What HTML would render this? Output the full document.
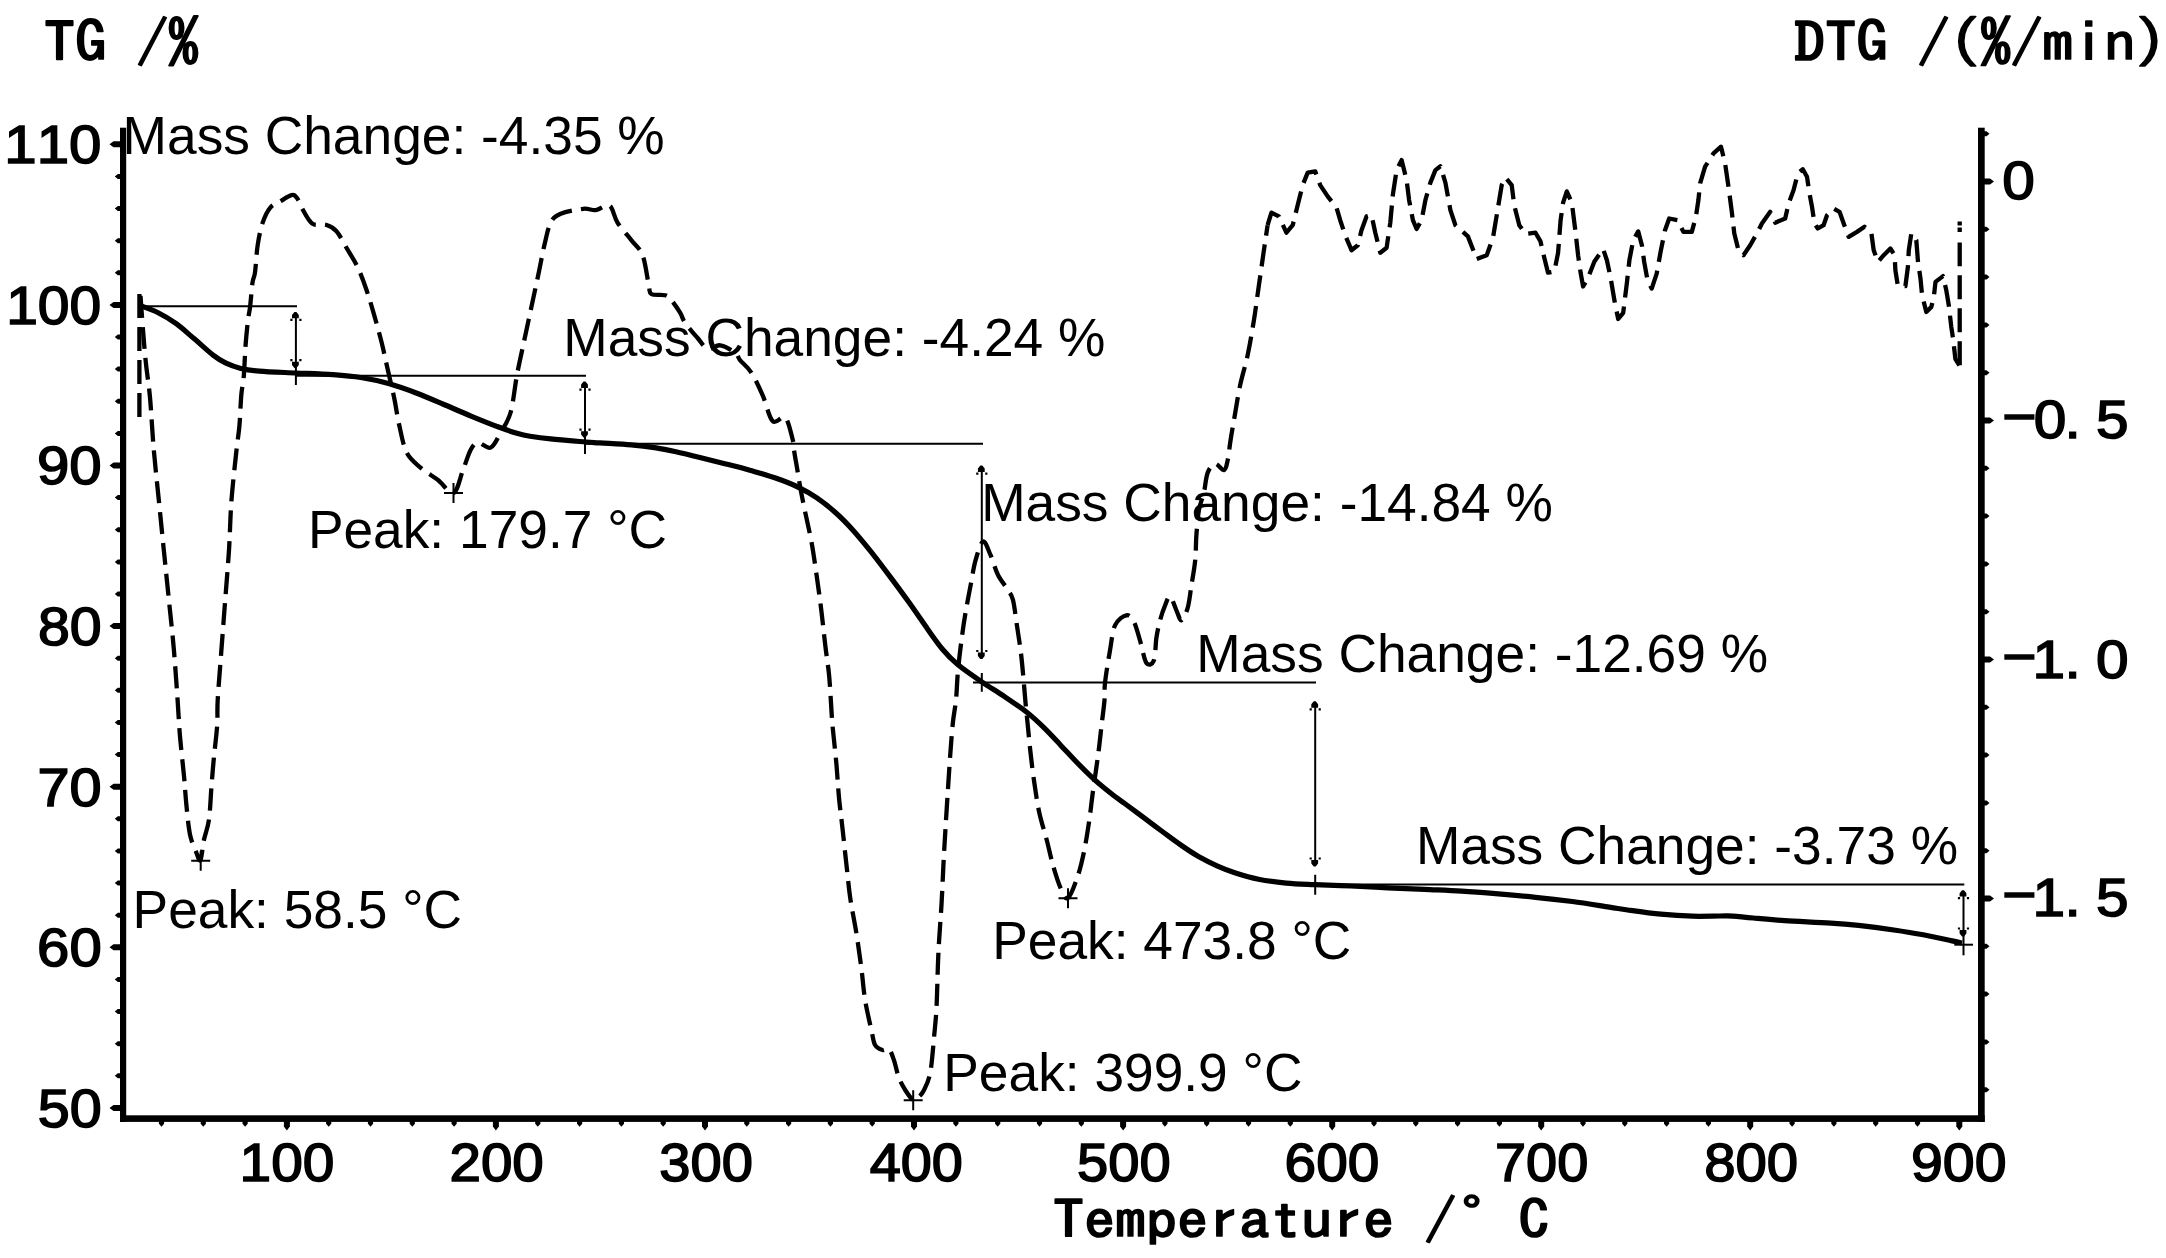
<!DOCTYPE html>
<html lang="en"><head><meta charset="utf-8"><title>TG / DTG curve</title>
<style>html,body{margin:0;padding:0;background:#fff}svg{display:block}.a{font-family:"Liberation Sans",Arial,sans-serif;fill:#000}.g{font-family:"IPAGothic","Liberation Mono",monospace;fill:#000}</style></head><body>
<svg width="2166" height="1258" viewBox="0 0 2166 1258">
<rect width="2166" height="1258" fill="#fff"/>
<g fill="#000">
<rect x="120.0" y="127.7" width="6.2" height="994.2"/>
<rect x="1978.0" y="127.7" width="6.7" height="994.2"/>
<rect x="120.0" y="1115.3" width="1864.7" height="6.6"/>
<path d="M109.5,144.3l4,-3H121.0v6H113.5z"/>
<path d="M114.8,176.4l3,-2.5H121.0v5H117.8z"/>
<path d="M114.8,208.5l3,-2.5H121.0v5H117.8z"/>
<path d="M114.8,240.7l3,-2.5H121.0v5H117.8z"/>
<path d="M114.8,272.8l3,-2.5H121.0v5H117.8z"/>
<path d="M109.5,304.9l4,-3H121.0v6H113.5z"/>
<path d="M114.8,337.0l3,-2.5H121.0v5H117.8z"/>
<path d="M114.8,369.1l3,-2.5H121.0v5H117.8z"/>
<path d="M114.8,401.3l3,-2.5H121.0v5H117.8z"/>
<path d="M114.8,433.4l3,-2.5H121.0v5H117.8z"/>
<path d="M109.5,465.5l4,-3H121.0v6H113.5z"/>
<path d="M114.8,497.6l3,-2.5H121.0v5H117.8z"/>
<path d="M114.8,529.7l3,-2.5H121.0v5H117.8z"/>
<path d="M114.8,561.9l3,-2.5H121.0v5H117.8z"/>
<path d="M114.8,594.0l3,-2.5H121.0v5H117.8z"/>
<path d="M109.5,626.1l4,-3H121.0v6H113.5z"/>
<path d="M114.8,658.2l3,-2.5H121.0v5H117.8z"/>
<path d="M114.8,690.3l3,-2.5H121.0v5H117.8z"/>
<path d="M114.8,722.5l3,-2.5H121.0v5H117.8z"/>
<path d="M114.8,754.6l3,-2.5H121.0v5H117.8z"/>
<path d="M109.5,786.7l4,-3H121.0v6H113.5z"/>
<path d="M114.8,818.8l3,-2.5H121.0v5H117.8z"/>
<path d="M114.8,850.9l3,-2.5H121.0v5H117.8z"/>
<path d="M114.8,883.1l3,-2.5H121.0v5H117.8z"/>
<path d="M114.8,915.2l3,-2.5H121.0v5H117.8z"/>
<path d="M109.5,947.3l4,-3H121.0v6H113.5z"/>
<path d="M114.8,979.4l3,-2.5H121.0v5H117.8z"/>
<path d="M114.8,1011.5l3,-2.5H121.0v5H117.8z"/>
<path d="M114.8,1043.7l3,-2.5H121.0v5H117.8z"/>
<path d="M114.8,1075.8l3,-2.5H121.0v5H117.8z"/>
<path d="M109.5,1107.9l4,-3H121.0v6H113.5z"/>
<path d="M1989.5,133.7l-3,-2.5H1983.7v5H1986.5z"/>
<path d="M1994.0,181.5l-4,-3H1983.7v6H1990.0z"/>
<path d="M1989.5,229.3l-3,-2.5H1983.7v5H1986.5z"/>
<path d="M1989.5,277.1l-3,-2.5H1983.7v5H1986.5z"/>
<path d="M1989.5,324.9l-3,-2.5H1983.7v5H1986.5z"/>
<path d="M1989.5,372.7l-3,-2.5H1983.7v5H1986.5z"/>
<path d="M1994.0,420.5l-4,-3H1983.7v6H1990.0z"/>
<path d="M1989.5,468.3l-3,-2.5H1983.7v5H1986.5z"/>
<path d="M1989.5,516.1l-3,-2.5H1983.7v5H1986.5z"/>
<path d="M1989.5,563.9l-3,-2.5H1983.7v5H1986.5z"/>
<path d="M1989.5,611.7l-3,-2.5H1983.7v5H1986.5z"/>
<path d="M1994.0,659.5l-4,-3H1983.7v6H1990.0z"/>
<path d="M1989.5,707.3l-3,-2.5H1983.7v5H1986.5z"/>
<path d="M1989.5,755.1l-3,-2.5H1983.7v5H1986.5z"/>
<path d="M1989.5,802.9l-3,-2.5H1983.7v5H1986.5z"/>
<path d="M1989.5,850.7l-3,-2.5H1983.7v5H1986.5z"/>
<path d="M1994.0,898.5l-4,-3H1983.7v6H1990.0z"/>
<path d="M1989.5,946.3l-3,-2.5H1983.7v5H1986.5z"/>
<path d="M1989.5,994.1l-3,-2.5H1983.7v5H1986.5z"/>
<path d="M1989.5,1041.9l-3,-2.5H1983.7v5H1986.5z"/>
<path d="M1989.5,1089.7l-3,-2.5H1983.7v5H1986.5z"/>
<path d="M161.5,1126.8l-2.6,-3V1120.9h5.2V1123.8z"/>
<path d="M203.3,1126.8l-2.6,-3V1120.9h5.2V1123.8z"/>
<path d="M245.1,1126.8l-2.6,-3V1120.9h5.2V1123.8z"/>
<path d="M286.9,1130.5l-3,-4V1120.9h6V1126.5z"/>
<path d="M328.7,1126.8l-2.6,-3V1120.9h5.2V1123.8z"/>
<path d="M370.5,1126.8l-2.6,-3V1120.9h5.2V1123.8z"/>
<path d="M412.3,1126.8l-2.6,-3V1120.9h5.2V1123.8z"/>
<path d="M454.1,1126.8l-2.6,-3V1120.9h5.2V1123.8z"/>
<path d="M495.9,1130.5l-3,-4V1120.9h6V1126.5z"/>
<path d="M537.8,1126.8l-2.6,-3V1120.9h5.2V1123.8z"/>
<path d="M579.6,1126.8l-2.6,-3V1120.9h5.2V1123.8z"/>
<path d="M621.4,1126.8l-2.6,-3V1120.9h5.2V1123.8z"/>
<path d="M663.2,1126.8l-2.6,-3V1120.9h5.2V1123.8z"/>
<path d="M705.0,1130.5l-3,-4V1120.9h6V1126.5z"/>
<path d="M746.8,1126.8l-2.6,-3V1120.9h5.2V1123.8z"/>
<path d="M788.6,1126.8l-2.6,-3V1120.9h5.2V1123.8z"/>
<path d="M830.4,1126.8l-2.6,-3V1120.9h5.2V1123.8z"/>
<path d="M872.2,1126.8l-2.6,-3V1120.9h5.2V1123.8z"/>
<path d="M914.0,1130.5l-3,-4V1120.9h6V1126.5z"/>
<path d="M955.9,1126.8l-2.6,-3V1120.9h5.2V1123.8z"/>
<path d="M997.7,1126.8l-2.6,-3V1120.9h5.2V1123.8z"/>
<path d="M1039.5,1126.8l-2.6,-3V1120.9h5.2V1123.8z"/>
<path d="M1081.3,1126.8l-2.6,-3V1120.9h5.2V1123.8z"/>
<path d="M1123.1,1130.5l-3,-4V1120.9h6V1126.5z"/>
<path d="M1164.9,1126.8l-2.6,-3V1120.9h5.2V1123.8z"/>
<path d="M1206.7,1126.8l-2.6,-3V1120.9h5.2V1123.8z"/>
<path d="M1248.5,1126.8l-2.6,-3V1120.9h5.2V1123.8z"/>
<path d="M1290.3,1126.8l-2.6,-3V1120.9h5.2V1123.8z"/>
<path d="M1332.2,1130.5l-3,-4V1120.9h6V1126.5z"/>
<path d="M1374.0,1126.8l-2.6,-3V1120.9h5.2V1123.8z"/>
<path d="M1415.8,1126.8l-2.6,-3V1120.9h5.2V1123.8z"/>
<path d="M1457.6,1126.8l-2.6,-3V1120.9h5.2V1123.8z"/>
<path d="M1499.4,1126.8l-2.6,-3V1120.9h5.2V1123.8z"/>
<path d="M1541.2,1130.5l-3,-4V1120.9h6V1126.5z"/>
<path d="M1583.0,1126.8l-2.6,-3V1120.9h5.2V1123.8z"/>
<path d="M1624.8,1126.8l-2.6,-3V1120.9h5.2V1123.8z"/>
<path d="M1666.6,1126.8l-2.6,-3V1120.9h5.2V1123.8z"/>
<path d="M1708.4,1126.8l-2.6,-3V1120.9h5.2V1123.8z"/>
<path d="M1750.2,1130.5l-3,-4V1120.9h6V1126.5z"/>
<path d="M1792.1,1126.8l-2.6,-3V1120.9h5.2V1123.8z"/>
<path d="M1833.9,1126.8l-2.6,-3V1120.9h5.2V1123.8z"/>
<path d="M1875.7,1126.8l-2.6,-3V1120.9h5.2V1123.8z"/>
<path d="M1917.5,1126.8l-2.6,-3V1120.9h5.2V1123.8z"/>
<path d="M1959.3,1130.5l-3,-4V1120.9h6V1126.5z"/>
</g>
<g stroke="#000" stroke-width="2" fill="none" stroke-linecap="butt">
<path d="M139.0,306.2H297.0"/>
<path d="M296.0,375.8H586.0"/>
<path d="M585.0,443.8H983.0"/>
<path d="M973.0,682.4H1316.0"/>
<path d="M1315.0,884.5H1964.3"/>
<path d="M295.9,312.9V385.0"/>
<path d="M295.4,311.9l1,0l2.4,3v3.4h-6.8v-3.4l2.4,-3zM290.3,318.8h2.2v2.2h-2.2zM299.3,318.8h2.2v2.2h-2.2zM295.4,368.1l1,0l2.4,-3v-3.4h-6.8v3.4l2.4,3zM290.3,361.2h2.2v-2.2h-2.2zM299.3,361.2h2.2v-2.2h-2.2z" fill="#000" stroke="none"/>
<path d="M585.0,382.6V454.0"/>
<path d="M584.5,381.6l1,0l2.4,3v3.4h-6.8v-3.4l2.4,-3zM579.4,388.5h2.2v2.2h-2.2zM588.4,388.5h2.2v2.2h-2.2zM584.5,437.6l1,0l2.4,-3v-3.4h-6.8v3.4l2.4,3zM579.4,430.7h2.2v-2.2h-2.2zM588.4,430.7h2.2v-2.2h-2.2z" fill="#000" stroke="none"/>
<path d="M981.8,466.6V658.0M981.8,673.0V691.7"/>
<path d="M981.3,465.6l1,0l2.4,3v3.4h-6.8v-3.4l2.4,-3zM976.2,472.5h2.2v2.2h-2.2zM985.2,472.5h2.2v2.2h-2.2zM981.3,659.0l1,0l2.4,-3v-3.4h-6.8v3.4l2.4,3zM976.2,652.1h2.2v-2.2h-2.2zM985.2,652.1h2.2v-2.2h-2.2z" fill="#000" stroke="none"/>
<path d="M1315.2,702.3V865.5M1315.2,874.8V894.8"/>
<path d="M1314.7,701.3l1,0l2.4,3v3.4h-6.8v-3.4l2.4,-3zM1309.6,708.2h2.2v2.2h-2.2zM1318.6,708.2h2.2v2.2h-2.2zM1314.7,866.5l1,0l2.4,-3v-3.4h-6.8v3.4l2.4,3zM1309.6,859.6h2.2v-2.2h-2.2zM1318.6,859.6h2.2v-2.2h-2.2z" fill="#000" stroke="none"/>
<path d="M1963.5,891.2V955.3"/>
<path d="M1963.0,890.2l1,0l2.4,3v3.4h-6.8v-3.4l2.4,-3zM1957.9,897.1h2.2v2.2h-2.2zM1966.9,897.1h2.2v2.2h-2.2zM1963.0,936.5l1,0l2.4,-3v-3.4h-6.8v3.4l2.4,3zM1957.9,929.6h2.2v-2.2h-2.2zM1966.9,929.6h2.2v-2.2h-2.2z" fill="#000" stroke="none"/>
<path d="M1954.3,944.7H1973"/>
<path d="M191.2,860.7H210.2M200.7,850.7V870.7"/>
<path d="M444.0,493.1H463.0M453.5,483.1V503.1"/>
<path d="M903.7,1100.3H922.7M913.2,1090.3V1110.3"/>
<path d="M1058.5,898.3H1077.5M1068.0,888.3V908.3"/>
</g>
<path d="M139.5,305.3C142.5,306.5 151.6,309.4 157.7,312.5C163.8,315.5 170.0,319.3 176.2,323.7C182.3,328.1 188.4,333.9 194.6,339.1C200.8,344.4 207.9,351.1 213.1,355.1C218.3,359.1 221.4,361.0 226.0,363.2C230.6,365.4 235.2,367.0 240.8,368.4C246.4,369.7 250.1,370.4 259.3,371.1C268.5,371.9 283.9,372.4 296.2,373.0C308.5,373.5 322.3,373.9 333.1,374.6C343.9,375.4 351.6,376.0 360.8,377.5C370.0,379.0 379.3,380.9 388.5,383.5C397.7,386.1 407.0,389.4 416.2,393.0C425.4,396.5 434.7,400.6 443.9,404.5C453.1,408.4 462.4,412.5 471.6,416.3C480.8,420.1 491.6,424.4 499.3,427.3C507.0,430.2 512.7,432.0 517.8,433.5C522.9,435.0 524.5,435.3 530.0,436.2C535.5,437.1 541.4,438.0 550.7,438.9C560.0,439.9 577.5,441.3 585.7,442.0C593.9,442.7 592.4,442.4 600.0,442.9C607.6,443.4 621.8,444.1 631.2,444.9C640.6,445.7 648.9,446.8 656.2,447.9C663.5,449.0 667.6,449.9 674.9,451.5C682.2,453.1 691.6,455.4 699.9,457.5C708.2,459.5 716.5,461.6 724.8,463.7C733.1,465.8 741.5,467.9 749.8,470.2C758.1,472.6 766.7,474.9 774.8,477.8C782.9,480.6 791.5,483.9 798.5,487.3C805.5,490.6 810.8,493.7 816.9,497.9C823.0,502.1 829.2,506.9 835.4,512.5C841.6,518.0 847.8,524.4 853.9,531.2C860.0,538.0 866.1,545.6 872.3,553.3C878.4,561.0 884.6,569.3 890.8,577.6C897.0,585.8 903.1,594.2 909.3,602.8C915.4,611.4 922.2,621.4 927.7,629.2C933.2,636.9 937.5,643.3 942.5,649.2C947.5,655.2 951.3,659.2 958.0,664.7C964.7,670.2 974.7,677.0 982.5,682.3C990.3,687.6 997.2,691.6 1004.6,696.6C1012.0,701.6 1020.3,707.2 1026.8,712.2C1033.3,717.3 1037.9,721.7 1043.4,727.1C1048.9,732.4 1054.5,738.5 1060.0,744.4C1065.5,750.2 1071.2,756.5 1076.7,762.2C1082.2,767.9 1087.8,773.5 1093.3,778.6C1098.8,783.6 1104.7,788.4 1109.9,792.5C1115.1,796.7 1119.2,799.5 1124.7,803.5C1130.2,807.6 1136.9,812.5 1143.1,817.1C1149.2,821.7 1155.4,826.4 1161.6,831.0C1167.8,835.5 1173.9,840.3 1180.1,844.5C1186.2,848.8 1192.3,852.9 1198.5,856.5C1204.7,860.0 1210.8,863.0 1217.0,865.8C1223.2,868.6 1228.6,870.7 1235.5,873.0C1242.4,875.2 1250.0,877.5 1258.5,879.2C1267.0,880.9 1276.8,882.2 1286.2,883.1C1295.6,884.0 1304.0,884.2 1314.8,884.7C1325.6,885.2 1338.6,885.5 1350.8,886.0C1363.0,886.5 1375.4,887.2 1387.7,887.8C1400.0,888.4 1412.4,888.8 1424.7,889.4C1437.0,890.0 1449.3,890.4 1461.6,891.2C1473.9,891.9 1486.2,892.9 1498.5,893.9C1510.8,894.9 1523.2,896.0 1535.5,897.3C1547.8,898.5 1560.1,899.9 1572.4,901.5C1584.7,903.1 1600.1,905.7 1609.3,907.1C1618.5,908.5 1619.1,908.8 1627.7,910.0C1636.3,911.2 1650.1,913.2 1660.9,914.2C1671.7,915.2 1682.5,915.9 1692.3,916.2C1702.1,916.5 1713.2,916.0 1720.0,916.0C1726.8,916.0 1727.5,915.8 1733.0,916.1C1738.5,916.5 1744.7,917.3 1753.3,918.0C1761.9,918.8 1771.8,919.8 1784.7,920.7C1797.6,921.5 1818.5,922.3 1830.8,923.1C1843.1,923.9 1847.7,924.3 1858.5,925.4C1869.3,926.6 1884.7,928.6 1895.5,930.2C1906.3,931.7 1914.0,933.1 1923.2,934.8C1932.4,936.6 1944.4,939.2 1950.9,940.6C1957.4,941.9 1960.2,942.6 1962.0,943.0" fill="none" stroke="#000" stroke-width="5.2" stroke-linejoin="round" stroke-linecap="butt"/>
<g fill="none" stroke="#000" stroke-width="4.3" stroke-dasharray="22 9" stroke-linejoin="round">
<path d="M139.4,294V418.5" stroke-dasharray="24 9"/>
<path d="M140.5,296.0C140.9,301.7 142.1,318.7 143.0,330.0C143.9,341.3 144.8,352.8 146.0,364.0C147.2,375.2 148.7,383.2 150.0,397.5C151.3,411.8 152.3,432.9 153.8,450.0C155.3,467.1 157.1,483.3 158.8,500.0C160.5,516.7 162.1,533.3 163.8,550.0C165.5,566.7 167.2,583.3 168.9,600.0C170.6,616.7 172.5,633.3 173.9,650.0C175.3,666.7 176.6,685.4 177.6,700.0C178.6,714.6 179.0,725.1 180.1,737.6C181.2,750.1 182.8,763.8 183.9,775.0C185.0,786.2 185.4,795.0 186.4,805.0C187.4,815.0 188.4,827.0 190.1,835.0C191.8,843.0 194.7,848.5 196.4,852.7C198.1,856.9 199.2,862.1 200.5,860.0C201.8,857.9 202.5,846.7 203.9,840.0C205.3,833.3 207.7,828.7 208.9,820.0C210.2,811.3 210.6,798.0 211.4,787.6C212.2,777.2 212.9,768.0 213.9,757.6C214.9,747.2 216.6,734.6 217.2,725.0C217.8,715.4 217.0,712.5 217.7,700.0C218.4,687.5 220.2,666.7 221.4,650.0C222.7,633.3 223.9,616.7 225.2,600.0C226.5,583.3 227.9,566.7 229.0,550.0C230.1,533.3 230.2,516.7 231.5,500.0C232.8,483.3 235.2,462.3 236.5,450.0C237.8,437.7 238.6,435.2 239.4,426.0C240.2,416.8 240.6,403.3 241.3,395.0C242.0,386.7 243.1,384.3 243.8,376.0C244.5,367.7 244.9,354.3 245.6,345.0C246.3,335.7 247.3,326.2 248.0,320.0C248.7,313.8 249.2,313.8 250.0,307.5C250.8,301.2 251.7,288.3 252.5,282.5C253.3,276.7 254.1,278.8 255.0,272.5C255.9,266.2 256.4,253.3 257.7,245.0C259.0,236.7 260.6,228.8 262.7,222.6C264.8,216.4 267.4,211.1 270.3,207.6C273.2,204.1 276.8,203.4 280.3,201.3C283.8,199.2 288.7,195.7 291.5,195.1C294.3,194.5 295.1,195.5 297.0,198.0C298.9,200.5 301.0,206.3 303.0,210.0C305.0,213.7 307.2,217.6 309.0,220.0C310.8,222.4 311.1,223.7 314.0,224.5C316.9,225.3 322.8,223.8 326.6,225.0C330.4,226.2 333.1,227.2 336.6,231.4C340.2,235.6 344.3,244.1 347.9,250.2C351.4,256.2 354.8,261.0 357.9,267.7C361.0,274.4 363.9,282.3 366.6,290.2C369.3,298.1 371.7,306.4 374.2,315.2C376.7,324.0 379.4,333.6 381.7,342.8C384.0,352.0 385.8,361.1 387.9,370.3C390.0,379.5 392.3,388.9 394.2,398.0C396.1,407.1 397.1,415.9 399.2,425.0C401.3,434.1 403.1,445.5 406.7,452.6C410.2,459.7 415.3,463.0 420.5,467.6C425.7,472.2 432.5,475.8 438.0,480.0C443.5,484.2 449.3,494.7 453.5,493.0C457.7,491.3 460.1,477.2 463.0,470.0C465.9,462.8 468.1,454.6 470.6,450.0C473.1,445.4 474.7,443.0 478.0,442.6C481.3,442.2 486.8,449.3 490.6,447.6C494.4,445.9 497.3,438.4 500.6,432.5C503.9,426.6 507.9,422.0 510.6,412.5C513.3,403.0 514.8,386.5 516.9,375.3C519.0,364.1 520.9,356.2 523.2,345.3C525.5,334.4 528.2,321.9 530.7,310.2C533.2,298.5 535.9,286.1 538.2,275.2C540.5,264.3 542.3,253.9 544.4,245.1C546.5,236.3 548.0,227.8 550.7,222.6C553.4,217.4 555.3,216.1 560.7,213.8C566.1,211.5 577.4,209.4 583.2,208.8C589.1,208.2 591.4,210.6 595.8,210.1C600.2,209.6 605.9,203.5 609.5,205.6C613.1,207.7 613.9,216.8 617.5,222.6C621.1,228.3 627.1,234.7 631.3,240.1C635.5,245.5 639.7,247.7 642.6,255.2C645.5,262.7 647.3,278.7 648.8,285.2C650.2,291.7 648.6,292.3 651.3,294.0C654.0,295.7 661.8,294.2 665.1,295.2C668.5,296.2 668.9,297.3 671.4,300.2C673.9,303.1 677.8,308.9 680.1,312.7C682.4,316.5 682.2,318.6 685.1,322.8C688.0,327.0 693.8,333.6 697.6,338.0C701.4,342.4 703.9,347.8 707.7,349.0C711.5,350.2 715.6,344.7 720.2,345.3C724.8,345.9 731.9,350.3 735.2,352.8C738.5,355.3 737.5,357.0 740.2,360.3C742.9,363.6 747.8,367.0 751.5,372.8C755.2,378.6 759.2,387.3 762.7,395.4C766.2,403.5 769.0,417.6 772.8,421.3C776.6,425.0 782.0,414.4 785.3,417.5C788.6,420.6 791.3,434.6 792.8,440.0C794.2,445.4 793.2,444.6 794.0,450.0C794.8,455.4 796.8,466.3 797.8,472.6C798.8,478.9 799.0,480.9 800.3,487.6C801.5,494.3 803.4,503.5 805.3,512.7C807.2,521.9 809.7,532.3 811.6,542.7C813.5,553.1 814.9,563.6 816.6,575.3C818.3,587.0 820.2,601.1 821.6,612.8C823.0,624.5 824.0,635.0 825.3,645.4C826.5,655.8 828.0,664.1 829.1,675.4C830.2,686.7 831.0,704.3 831.6,713.0C832.2,721.7 831.9,718.9 832.7,727.6C833.5,736.3 835.5,753.4 836.5,765.1C837.5,776.8 838.0,786.9 839.0,797.7C840.0,808.6 841.5,818.9 842.7,830.2C844.0,841.5 845.2,854.0 846.5,865.3C847.8,876.6 848.6,886.6 850.2,897.8C851.8,909.0 854.4,920.9 856.3,932.5C858.1,944.1 859.8,956.4 861.3,967.6C862.8,978.9 863.4,989.6 865.1,1000.0C866.8,1010.4 869.7,1022.5 871.4,1030.0C873.1,1037.5 873.2,1041.7 875.1,1045.0C877.0,1048.3 880.3,1049.3 882.6,1050.0C884.9,1050.7 887.0,1047.3 888.9,1049.0C890.8,1050.7 892.2,1055.2 893.9,1060.0C895.6,1064.8 897.0,1072.8 898.9,1077.8C900.8,1082.8 902.9,1086.3 905.2,1090.0C907.6,1093.7 910.9,1098.7 913.0,1100.0C915.1,1101.3 915.9,1099.4 917.7,1097.8C919.5,1096.2 921.8,1094.5 923.9,1090.3C926.0,1086.1 928.5,1081.6 930.2,1072.8C931.9,1064.0 933.0,1048.5 934.0,1037.7C935.0,1026.9 935.9,1019.8 936.5,1007.7C937.1,995.7 937.5,976.6 937.9,965.4C938.3,954.2 938.5,950.8 939.1,940.4C939.7,930.0 940.9,915.3 941.6,902.8C942.3,890.3 942.8,877.4 943.4,865.3C944.0,853.2 944.6,842.7 945.4,830.2C946.1,817.7 947.1,803.1 947.9,790.2C948.7,777.3 949.6,763.9 950.4,752.6C951.2,741.3 952.0,731.3 952.9,722.5C953.8,713.7 955.1,708.7 956.0,700.0C956.9,691.3 957.0,680.8 958.0,670.4C959.0,660.0 960.5,647.5 961.8,637.9C963.0,628.3 964.0,621.6 965.5,612.8C967.0,604.0 968.9,594.1 970.6,585.3C972.3,576.5 973.5,567.5 975.6,560.2C977.7,552.9 980.5,542.3 983.0,541.5C985.5,540.7 988.1,549.6 990.6,555.2C993.1,560.8 995.1,569.2 998.0,575.0C1000.9,580.8 1005.5,585.8 1008.0,590.0C1010.5,594.2 1011.5,594.1 1013.0,600.0C1014.5,605.9 1015.6,616.9 1016.9,625.3C1018.2,633.7 1019.5,642.0 1020.6,650.4C1021.7,658.8 1022.4,666.7 1023.2,675.4C1024.0,684.1 1024.7,693.8 1025.5,702.5C1026.3,711.2 1027.2,719.2 1028.0,727.6C1028.8,736.0 1029.5,743.4 1030.5,752.6C1031.5,761.8 1032.8,772.6 1034.3,782.6C1035.8,792.6 1037.2,803.1 1039.3,812.7C1041.4,822.3 1044.5,831.4 1046.8,840.2C1049.1,849.0 1050.7,857.4 1053.0,865.3C1055.3,873.2 1058.0,882.3 1060.5,887.8C1063.0,893.2 1065.1,900.1 1068.0,898.0C1070.9,895.9 1075.3,883.3 1078.0,875.3C1080.7,867.3 1082.4,859.4 1084.3,850.2C1086.2,841.0 1087.8,830.2 1089.3,820.2C1090.8,810.2 1091.6,801.1 1093.1,790.2C1094.6,779.4 1096.6,766.4 1098.1,755.1C1099.6,743.8 1100.8,731.7 1101.9,722.5C1103.0,713.3 1104.0,706.6 1104.5,700.0C1105.0,693.4 1104.1,691.3 1105.0,683.0C1105.9,674.7 1108.3,660.0 1110.0,650.4C1111.7,640.8 1112.3,631.1 1115.0,625.3C1117.7,619.4 1123.2,615.9 1126.3,615.3C1129.4,614.7 1131.5,617.4 1133.8,621.6C1136.1,625.8 1137.9,633.5 1140.0,640.4C1142.1,647.3 1144.1,659.6 1146.4,662.9C1148.7,666.2 1152.2,664.6 1153.9,660.4C1155.6,656.2 1155.4,644.6 1156.4,637.9C1157.4,631.2 1158.6,625.7 1160.1,620.3C1161.5,614.9 1163.4,609.2 1165.1,605.3C1166.8,601.3 1168.2,595.8 1170.1,596.6C1172.0,597.4 1174.5,606.3 1176.4,610.3C1178.3,614.2 1179.5,620.7 1181.4,620.3C1183.3,619.9 1186.0,613.6 1187.7,607.8C1189.4,602.0 1190.2,593.2 1191.4,585.3C1192.7,577.4 1194.4,568.6 1195.2,560.2C1196.0,551.9 1195.8,543.5 1196.4,535.2C1197.0,526.9 1197.7,517.3 1198.9,510.2C1200.2,503.1 1202.4,498.9 1203.9,492.6C1205.4,486.3 1205.8,477.4 1207.7,472.6C1209.6,467.8 1212.5,464.2 1215.2,463.8C1217.9,463.4 1221.9,470.7 1224.0,470.1C1226.1,469.5 1226.7,464.7 1227.7,460.1C1228.7,455.5 1229.2,449.3 1230.2,442.6C1231.2,435.9 1232.3,429.5 1234.0,420.0C1235.7,410.5 1237.8,396.2 1240.1,385.4C1242.4,374.6 1245.3,366.2 1247.6,355.4C1249.9,344.5 1252.0,332.0 1253.9,320.3C1255.8,308.6 1257.2,297.0 1258.9,285.3C1260.6,273.6 1262.5,260.2 1263.9,250.2C1265.4,240.2 1267.0,229.4 1267.6,225.2"/>
<path d="M1267.6,225.2L1271.4,212.6L1278.9,216.4L1286.4,232.7L1292.7,225.2L1297.7,205.1L1302.7,185.1L1307.7,172.6L1315.2,171.3L1320.2,185.1L1327.7,196.4L1336.5,207.6L1340.2,220.2L1345.2,235.2L1351.5,250.2L1357.8,245.2L1361.5,230.2L1366.5,216.4L1371.5,215.1L1375.3,232.7L1380.3,252.7L1386.6,247.7L1390.3,222.7L1392.8,195.1L1396.6,170.1L1401.6,160.1L1406.6,180.1L1409.1,200.1L1412.9,220.2L1416.6,228.9L1421.6,220.2L1425.4,200.1L1430.4,182.6L1435.4,170.1L1440.4,166.3L1445.4,182.6L1450.4,210.1L1455.4,225.2L1467.9,236.4L1476.7,259.0L1486.7,255.2L1493.0,237.7L1498.0,207.6L1501.7,185.1L1505.5,177.6L1511.7,185.1L1514.2,205.1L1519.3,225.2L1525.5,233.9L1535.5,232.7L1540.5,241.4L1544.3,257.7L1548.0,272.7L1554.3,271.5L1558.1,252.7L1560.6,220.2L1563.1,202.6L1566.8,191.4L1571.8,202.6L1575.6,232.7L1578.1,255.2L1580.6,272.7L1583.1,286.5L1588.1,277.7L1594.4,261.5L1603.1,249.0L1606.9,260.2L1610.6,277.7L1614.4,300.3L1618.2,319.0L1623.2,312.8L1626.9,282.7L1629.4,260.2L1633.2,240.2L1638.2,231.4L1641.9,245.2L1644.2,261.9L1647.5,280.3L1651.7,288.6L1656.7,273.6L1660.9,250.2L1665.0,230.2L1669.2,218.5L1677.6,220.2L1683.4,231.9L1691.8,231.9L1695.9,216.8L1698.4,200.1L1700.1,183.4L1705.1,166.7L1713.5,153.4L1721.0,146.7L1725.1,163.4L1728.5,186.8L1731.8,211.8L1734.3,233.5L1738.5,250.2L1743.5,255.2L1750.2,245.2L1756.9,233.5L1761.9,223.5L1770.2,211.8L1775.2,222.7L1785.2,218.5L1788.6,203.5L1793.6,190.1L1797.8,173.4L1802.8,169.2L1807.0,176.8L1809.5,193.5L1812.0,206.8L1814.5,223.5L1817.8,228.5L1823.6,225.2L1827.0,215.2L1833.7,208.5L1839.5,211.8L1843.7,223.5L1848.7,236.9L1857.0,231.9L1864.5,226.8L1871.2,231.9L1873.7,250.2L1877.9,261.9L1883.7,255.2L1890.4,248.5L1894.6,255.2L1895.4,270.3L1897.9,286.1L1905.4,286.1L1907.9,266.9L1908.8,250.2L1911.3,233.5L1916.3,240.2L1918.0,261.9L1920.5,278.6L1922.1,295.3L1926.3,312.0L1931.3,307.0L1933.8,297.0L1935.5,281.9L1943.0,276.1L1946.3,290.3L1948.8,305.3L1951.3,327.0L1953.0,338.3L1955.4,359.0L1959.4,365.3"/>
<path d="M1959.7,365.3V242.5" stroke-dasharray="24 9"/>
<path d="M1959.7,232V221.5" stroke-dasharray="4.5 2"/>
</g>
<text class="a" font-size="53.3" x="122.6" y="153.5">Mass Change: -4.35 %</text>
<text class="a" font-size="53.3" x="563.3" y="355.8">Mass Change: -4.24 %</text>
<text class="a" font-size="53.3" x="981.2" y="520.7">Mass Change: -14.84 %</text>
<text class="a" font-size="53.3" x="1196.3" y="672.4">Mass Change: -12.69 %</text>
<text class="a" font-size="53.3" x="1415.9" y="863.6">Mass Change: -3.73 %</text>
<text class="a" font-size="53.3" x="132.6" y="927.8">Peak: 58.5 °C</text>
<text class="a" font-size="53.3" x="307.9" y="547.7">Peak: 179.7 °C</text>
<text class="a" font-size="53.3" x="943.3" y="1090.8">Peak: 399.9 °C</text>
<text class="a" font-size="53.3" x="992.2" y="959.0">Peak: 473.8 °C</text>
<text class="a" font-size="54.28" transform="matrix(1.0727 0 0 1.0000 4.31 163.26)" stroke="#000" stroke-width="1.54" stroke-linejoin="miter" style="font-kerning:none">110</text>
<text class="a" font-size="54.28" transform="matrix(1.0493 0 0 1.0000 6.15 323.86)" stroke="#000" stroke-width="1.56" stroke-linejoin="miter" style="font-kerning:none">100</text>
<text class="a" font-size="54.28" transform="matrix(1.0731 0 0 1.0000 36.93 484.46)" stroke="#000" stroke-width="1.54" stroke-linejoin="miter" xml:space="preserve">90</text>
<text class="a" font-size="54.28" transform="matrix(1.0554 0 0 1.0000 37.97 645.06)" stroke="#000" stroke-width="1.56" stroke-linejoin="miter" xml:space="preserve">80</text>
<text class="a" font-size="54.28" transform="matrix(1.0631 0 0 1.0000 37.51 805.66)" stroke="#000" stroke-width="1.55" stroke-linejoin="miter" xml:space="preserve">70</text>
<text class="a" font-size="54.28" transform="matrix(1.0703 0 0 1.0000 37.10 966.26)" stroke="#000" stroke-width="1.55" stroke-linejoin="miter" xml:space="preserve">60</text>
<text class="a" font-size="54.28" transform="matrix(1.0600 0 0 1.0000 37.70 1126.86)" stroke="#000" stroke-width="1.55" stroke-linejoin="miter" xml:space="preserve">50</text>
<text class="a" font-size="53.85" transform="matrix(1.0557 0 0 1.0000 239.61 1180.66)" stroke="#000" stroke-width="1.56" stroke-linejoin="miter" style="font-kerning:none">100</text>
<text class="a" font-size="53.85" transform="matrix(1.0507 0 0 1.0000 449.42 1180.66)" stroke="#000" stroke-width="1.56" stroke-linejoin="miter" xml:space="preserve">200</text>
<text class="a" font-size="53.85" transform="matrix(1.0425 0 0 1.0000 659.19 1180.66)" stroke="#000" stroke-width="1.57" stroke-linejoin="miter" xml:space="preserve">300</text>
<text class="a" font-size="53.85" transform="matrix(1.0374 0 0 1.0000 869.64 1180.66)" stroke="#000" stroke-width="1.57" stroke-linejoin="miter" xml:space="preserve">400</text>
<text class="a" font-size="53.85" transform="matrix(1.0429 0 0 1.0000 1077.00 1180.66)" stroke="#000" stroke-width="1.57" stroke-linejoin="miter" xml:space="preserve">500</text>
<text class="a" font-size="53.85" transform="matrix(1.0542 0 0 1.0000 1284.61 1180.66)" stroke="#000" stroke-width="1.56" stroke-linejoin="miter" xml:space="preserve">600</text>
<text class="a" font-size="53.85" transform="matrix(1.0390 0 0 1.0000 1495.00 1180.66)" stroke="#000" stroke-width="1.57" stroke-linejoin="miter" xml:space="preserve">700</text>
<text class="a" font-size="53.85" transform="matrix(1.0457 0 0 1.0000 1704.16 1180.66)" stroke="#000" stroke-width="1.56" stroke-linejoin="miter" xml:space="preserve">800</text>
<text class="a" font-size="53.85" transform="matrix(1.0643 0 0 1.0000 1910.93 1180.66)" stroke="#000" stroke-width="1.55" stroke-linejoin="miter" xml:space="preserve">900</text>
<text class="a" font-size="54.24" transform="matrix(1.080 0 0 1 0 199.46)" x="1853.9" y="0" stroke="#000" stroke-width="1.54" stroke-linejoin="miter">0</text>
<text class="a" font-size="54.24" transform="matrix(1.080 0 0 1 0 438.26)" x="1853.9 1883.1 1911.6 1940.7" y="-3 0 0 0" stroke="#000" stroke-width="1.54" stroke-linejoin="miter">−0.5</text>
<text class="a" font-size="54.24" transform="matrix(1.080 0 0 1 0 678.06)" x="1853.9 1881.9 1911.6 1940.8" y="-3 0 0 0" stroke="#000" stroke-width="1.54" stroke-linejoin="miter">−1.0</text>
<text class="a" font-size="54.24" transform="matrix(1.080 0 0 1 0 916.26)" x="1853.9 1881.9 1911.6 1940.7" y="-3 0 0 0" stroke="#000" stroke-width="1.54" stroke-linejoin="miter">−1.5</text>
<text class="g" font-size="62" transform="matrix(1 0 0 0.8802 0 62.43)" x="44.0 75.0 106.0 137.0 168.0" y="0" stroke="#000" stroke-width="2.0" stroke-linejoin="round" xml:space="preserve">TG /%</text>
<text class="g" font-size="62" transform="matrix(1 0 0 0.8733 0 62.31)" x="1794.2 1825.2 1856.2 1887.2 1918.2 1949.2 1980.2 2011.2 2042.2 2073.2 2104.2 2135.2" y="0" stroke="#000" stroke-width="2.0" stroke-linejoin="round" xml:space="preserve">DTG /(%/min)</text>
<text class="g" font-size="62" transform="matrix(1 0 0 0.8594 0 1239.36)" x="1053.0 1084.0 1115.0 1146.0 1177.0 1208.0 1239.0 1270.0 1301.0 1332.0 1363.0 1394.0 1425.0 1461.5 1518.5" y="0" stroke="#000" stroke-width="2.0" stroke-linejoin="round" xml:space="preserve">Temperature /°C</text>
</svg></body></html>
